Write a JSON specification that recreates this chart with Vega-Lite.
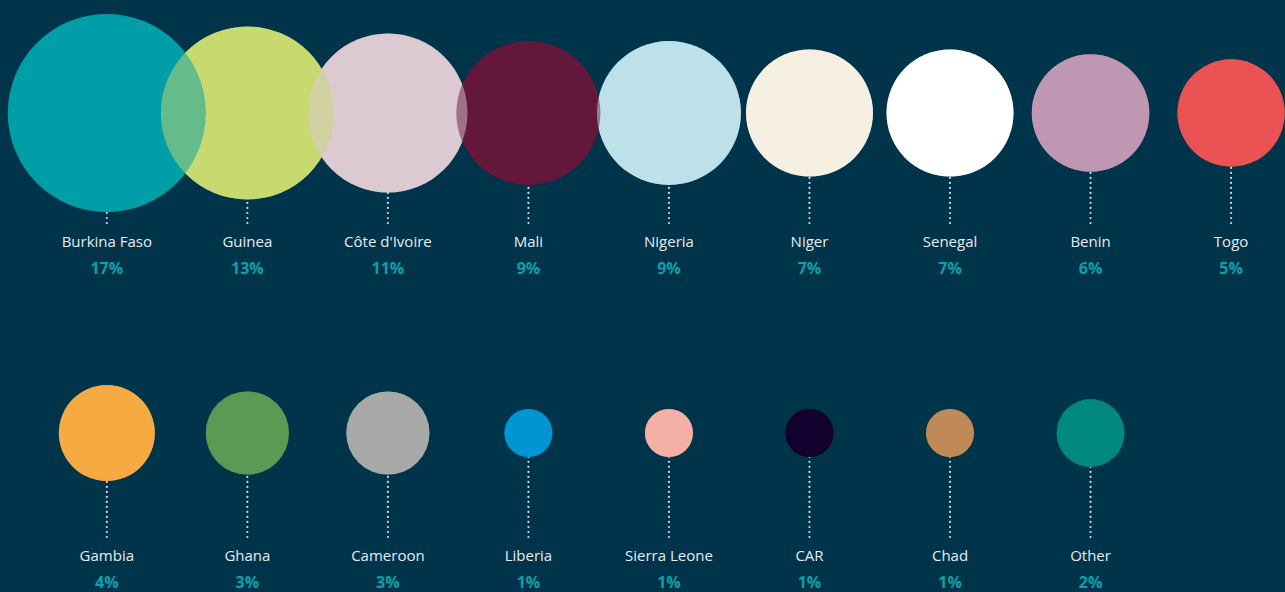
{
  "$schema": "https://vega.github.io/schema/vega-lite/v6.json",
  "width": 1285,
  "height": 592,
  "autosize": {"type": "fit", "contains": "padding"},
  "padding": 0,
  "background": "#00344B",
  "config": {"view": {"stroke": null}},
  "data": {"values": [
    {"country": "Burkina Faso", "pct": 0.17, "row": 0, "col": 0},
    {"country": "Guinea", "pct": 0.13, "row": 0, "col": 1},
    {"country": "Côte d'Ivoire", "pct": 0.11, "row": 0, "col": 2},
    {"country": "Mali", "pct": 0.09, "row": 0, "col": 3},
    {"country": "Nigeria", "pct": 0.09, "row": 0, "col": 4},
    {"country": "Niger", "pct": 0.07, "row": 0, "col": 5},
    {"country": "Senegal", "pct": 0.07, "row": 0, "col": 6},
    {"country": "Benin", "pct": 0.06, "row": 0, "col": 7},
    {"country": "Togo", "pct": 0.05, "row": 0, "col": 8},
    {"country": "Gambia", "pct": 0.04, "row": 1, "col": 0},
    {"country": "Ghana", "pct": 0.03, "row": 1, "col": 1},
    {"country": "Cameroon", "pct": 0.03, "row": 1, "col": 2},
    {"country": "Liberia", "pct": 0.01, "row": 1, "col": 3},
    {"country": "Sierra Leone", "pct": 0.01, "row": 1, "col": 4},
    {"country": "CAR", "pct": 0.01, "row": 1, "col": 5},
    {"country": "Chad", "pct": 0.01, "row": 1, "col": 6},
    {"country": "Other", "pct": 0.02, "row": 1, "col": 7}
  ]},
  "encoding": {
    "x": {"field": "col", "type": "quantitative", "scale": {"domain": [-0.7602, 8.3481]}, "axis": null}
  },
  "layer": [
    {
      "mark": {"type": "rule", "color": "#D3DAE0", "strokeWidth": 2.2, "strokeDash": [0.01, 5], "strokeCap": "round", "yOffset": -19, "y2Offset": -125},
      "encoding": {
        "y": {"field": "row", "type": "quantitative", "scale": {"domain": [-0.7707, 1.1146], "reverse": true}, "axis": null},
        "y2": {"field": "row"}
      }
    },
    {
      "mark": {"type": "point", "shape": "circle", "filled": true, "opacity": 1, "strokeWidth": 0},
      "encoding": {
        "y": {"field": "row", "type": "quantitative", "scale": {"domain": [-0.353125, 1.496875], "reverse": true}, "axis": null},
        "size": {"field": "pct", "type": "quantitative", "scale": {"domain": [0, 0.17], "range": [0, 39168]}, "legend": null},
        "color": {"field": "country", "type": "nominal", "legend": null, "scale": {
          "domain": ["Burkina Faso", "Guinea", "Côte d'Ivoire", "Mali", "Nigeria", "Niger", "Senegal", "Benin", "Togo", "Gambia", "Ghana", "Cameroon", "Liberia", "Sierra Leone", "CAR", "Chad", "Other"],
          "range": ["#009FA8", "#C8D96F", "#DCC9D2", "#63173A", "#BCE1E8", "#F5F0E1", "#FFFFFF", "#C097B3", "#EB5254", "#F7A942", "#5A9A54", "#A8A8A8", "#0096D4", "#F4B0A4", "#12002E", "#C08A58", "#00877F"]
        }},
        "order": {"field": "col", "sort": "ascending"}
      }
    },
    {
      "mark": {"type": "point", "shape": "circle", "filled": true, "opacity": 0.5, "strokeWidth": 0},
      "encoding": {
        "y": {"field": "row", "type": "quantitative", "scale": {"domain": [-0.353125, 1.496875], "reverse": true}, "axis": null},
        "size": {"field": "pct", "type": "quantitative", "scale": {"domain": [0, 0.17], "range": [0, 39168]}, "legend": null},
        "color": {"field": "country", "type": "nominal", "legend": null},
        "order": {"field": "col", "sort": "descending"}
      }
    },
    {
      "mark": {"type": "text", "font": "Open Sans", "fontSize": 15, "color": "#E6ECF0", "baseline": "middle", "align": "center"},
      "encoding": {
        "y": {"field": "row", "type": "quantitative", "scale": {"domain": [-0.7707, 1.1146], "reverse": true}, "axis": null},
        "text": {"field": "country"}
      }
    },
    {
      "mark": {"type": "text", "font": "Open Sans", "fontSize": 16, "fontWeight": "bold", "color": "#0AA1AB", "baseline": "middle", "align": "center", "dy": 27},
      "encoding": {
        "y": {"field": "row", "type": "quantitative", "scale": {"domain": [-0.7707, 1.1146], "reverse": true}, "axis": null},
        "text": {"field": "pct", "type": "quantitative", "format": ".0%"}
      }
    }
  ],
  "resolve": {"scale": {"y": "independent"}}
}
